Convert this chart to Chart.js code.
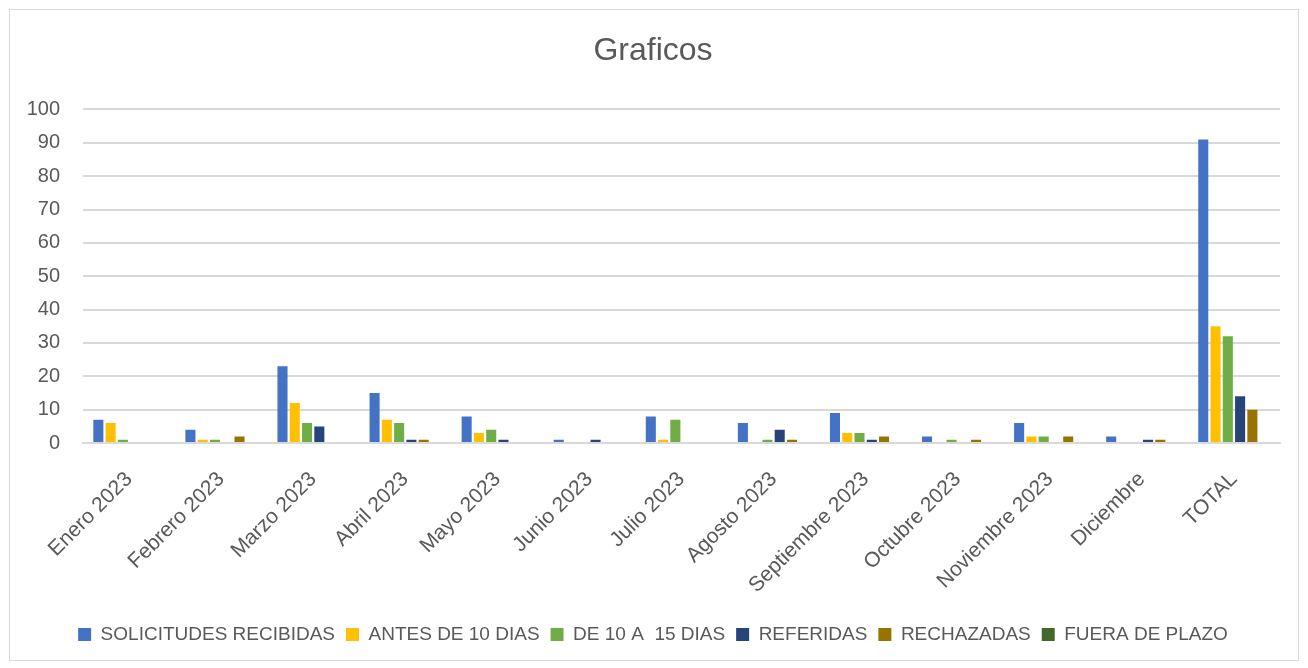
<!DOCTYPE html>
<html>
<head>
<meta charset="utf-8">
<script src="https://cdn.jsdelivr.net/npm/chart.js@4"></script>
<style>
  body { margin: 0; background: #fff; }
  #box { position: absolute; left: 9px; top: 9px; width: 1288px; height: 650px; border: 1px solid #d9d9d9; }
</style>
</head>
<body>
<div id="box"><canvas id="chart" width="1288" height="650"></canvas></div>
<script>
const months = ["Enero 2023", "Febrero 2023", "Marzo 2023", "Abril 2023", "Mayo 2023", "Junio 2023", "Julio 2023",
    "Agosto 2023", "Septiembre 2023", "Octubre 2023", "Noviembre 2023", "Diciembre", "TOTAL"]

const solicitudes = [7, 4, 23, 15, 8, 1, 8, 6, 9, 2, 6, 2, 91]
const antes10 = [6, 1, 12, 7, 3, 0, 1, 0, 3, 0, 2, 0, 35]
const de10a15 = [1, 1, 6, 6, 4, 0, 7, 1, 3, 1, 2, 0, 32]
const referidas = [0, 0, 5, 1, 1, 1, 0, 4, 1, 0, 0, 1, 14]
const rechazadas = [0, 2, 0, 1, 0, 0, 0, 1, 2, 1, 2, 1, 10]
const fueraPlazo = [0, 0, 0, 0, 0, 0, 0, 0, 0, 0, 0, 0, 0]

const font = "'Liberation Sans', Arial, sans-serif"
const textColor = "#595959"

function ds(label, data, color) {
    return { label: label, data: data, backgroundColor: color, borderWidth: 0,
        categoryPercentage: 0.8, barPercentage: 0.82 }
}

new Chart(document.getElementById("chart"), {
    type: 'bar',
    data: {
        labels: months,
        datasets: [
            ds("SOLICITUDES RECIBIDAS", solicitudes, "#4472C4"),
            ds("ANTES DE 10 DIAS", antes10, "#FFC000"),
            ds("DE 10 A  15 DIAS", de10a15, "#70AD47"),
            ds("REFERIDAS", referidas, "#264478"),
            ds("RECHAZADAS", rechazadas, "#997300"),
            ds("FUERA DE PLAZO", fueraPlazo, "#43682B")
        ]
    },
    options: {
        responsive: false,
        animation: false,
        layout: { padding: { left: 16, right: 18, top: 14, bottom: 6 } },
        plugins: {
            title: {
                display: true,
                text: "Graficos",
                color: textColor,
                font: { family: font, size: 32, weight: 'normal' },
                padding: { top: 8, bottom: 39 }
            },
            legend: {
                position: 'bottom',
                labels: {
                    color: textColor,
                    font: { family: font, size: 19 },
                    boxWidth: 13,
                    boxHeight: 13,
                    padding: 11
                }
            },
            tooltip: { enabled: false }
        },
        scales: {
            y: {
                min: 0,
                max: 100,
                // chart.js counts the tick padding twice, keep the axis narrow
                afterFit: s => { s.width = 57 },
                ticks: { stepSize: 10, color: textColor, font: { family: font, size: 20 }, padding: 23 },
                grid: { color: "#d9d9d9", lineWidth: 2, drawTicks: false },
                border: { display: false }
            },
            x: {
                ticks: { color: textColor, font: { family: font, size: 21 }, maxRotation: 45, minRotation: 45, padding: 16 },
                grid: { display: false },
                border: { color: "#d9d9d9", width: 2 }
            }
        }
    }
});
</script>
</body>
</html>
